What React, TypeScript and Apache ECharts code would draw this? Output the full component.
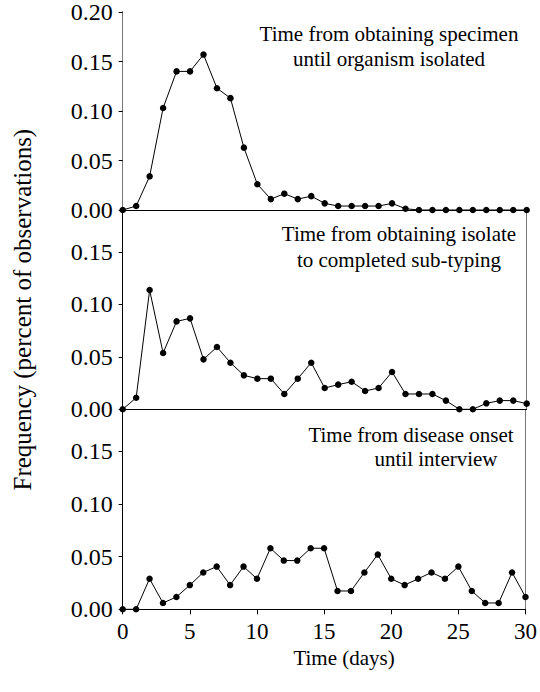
import React, { useEffect, useRef } from "react";
import * as echarts from "echarts";

const days = [0, 1, 2, 3, 4, 5, 6, 7, 8, 9, 10, 11, 12, 13, 14, 15, 16, 17, 18, 19, 20, 21, 22, 23, 24, 25, 26, 27, 28, 29, 30];

const specimenToIsolate = [
  0, 0.004, 0.034, 0.103, 0.14, 0.14, 0.157, 0.123, 0.113, 0.063, 0.026,
  0.011, 0.0165, 0.011, 0.014, 0.0067, 0.004, 0.004, 0.004, 0.004, 0.0067,
  0.0013, 0, 0, 0, 0, 0, 0, 0, 0, 0,
];

const isolateToSubtype = [
  0, 0.011, 0.1137, 0.0537, 0.0838, 0.0867, 0.0476, 0.0594, 0.0444, 0.0324,
  0.0292, 0.0292, 0.0146, 0.0292, 0.0444, 0.0203, 0.0235, 0.0263, 0.0175,
  0.0203, 0.0356, 0.0146, 0.0146, 0.0146, 0.0083, 0, 0, 0.0057, 0.0083,
  0.0083, 0.0054,
];

const onsetToInterview = [
  0, 0, 0.029, 0.006, 0.0117, 0.023, 0.035, 0.0406, 0.023, 0.0406, 0.029,
  0.058, 0.0463, 0.0463, 0.058, 0.058, 0.0174, 0.0174, 0.035, 0.052, 0.029,
  0.023, 0.029, 0.035, 0.029, 0.0406, 0.0174, 0.006, 0.006, 0.035, 0.0117,
];

const panelTitles = [
  ["Time from obtaining specimen", "until organism isolated"],
  ["Time from obtaining isolate", "to completed sub-typing"],
  ["Time from disease onset", "until interview"],
];

const yTicksTop = [0, 0.05, 0.1, 0.15, 0.2];
const yTicksLower = [0, 0.05, 0.1, 0.15];
const xTicks = [0, 5, 10, 15, 20, 25, 30];

const FONT = "Liberation Serif";

export default function App() {
  const ref = useRef<HTMLDivElement>(null);

  useEffect(() => {
    if (!ref.current) return;
    const chart = echarts.init(ref.current, null, { renderer: "svg" });

    const left = 122.7;
    const right = 540 - 526.7;
    const grids = [
      { left, right, top: 11.7, height: 198.3 },
      { left, right, top: 210, height: 199.3 },
      { left, right, top: 409.3, height: 200 },
    ];

    const seriesData = [specimenToIsolate, isolateToSubtype, onsetToInterview];

    const xAxes: any[] = grids.map((_, i) => ({
      type: "value",
      gridIndex: i,
      min: 0,
      max: 30,
      interval: 5,
      axisLine: { show: true, lineStyle: { color: "#000", width: 1 } },
      axisTick: {
        show: i === 2,
        length: 5,
        inside: false,
        lineStyle: { color: "#000" },
        customValues: xTicks,
      },
      axisLabel: {
        show: i === 2,
        fontFamily: FONT,
        fontSize: 23,
        color: "#000",
        margin: 11,
        customValues: xTicks,
      },
      splitLine: { show: false },
      name: i === 2 ? "Time (days)" : "",
      nameLocation: "middle",
      nameGap: 38,
      nameTextStyle: {
        fontFamily: FONT,
        fontSize: 21,
        color: "#000",
        padding: [0, 0, 0, 40],
      },
    }));
    // top frame line of first panel
    xAxes.push({
      type: "value",
      gridIndex: 0,
      position: "top",
      min: 0,
      max: 30,
      axisLine: { show: true, lineStyle: { color: "#000", width: 1 } },
      axisTick: { show: false },
      axisLabel: { show: false },
      splitLine: { show: false },
    });

    const yAxes: any[] = grids.map((_, i) => {
      const ticks = i === 0 ? yTicksTop : yTicksLower;
      return {
        type: "value",
        gridIndex: i,
        min: 0,
        max: i === 0 ? 0.2 : 0.19,
        interval: 0.05,
        axisLine: { show: true, lineStyle: { color: "#000", width: 1 } },
        axisTick: {
          show: true,
          length: 4,
          inside: false,
          lineStyle: { color: "#000" },
          customValues: ticks,
        },
        axisLabel: {
          fontFamily: FONT,
          fontSize: 24,
          color: "#000",
          margin: 10,
          customValues: ticks,
          formatter: (v: number) => v.toFixed(2),
        },
        splitLine: { show: false },
        name: i === 1 ? "Frequency (percent of observations)" : "",
        nameLocation: "middle",
        nameRotate: 90,
        nameGap: 88,
        nameTextStyle: { fontFamily: FONT, fontSize: 25, color: "#000" },
      };
    });
    // right frame lines
    grids.forEach((_, i) => {
      yAxes.push({
        type: "value",
        gridIndex: i,
        position: "right",
        min: 0,
        max: 1,
        axisLine: { show: true, lineStyle: { color: "#777", width: 1 } },
        axisTick: { show: false },
        axisLabel: { show: false },
        splitLine: { show: false },
      });
    });

    const series = seriesData.map((vals, i) => ({
      type: "line",
      xAxisIndex: i,
      yAxisIndex: i,
      data: days.map((d, j) => [d, vals[j]]),
      symbol: "circle",
      symbolSize: 6.5,
      showSymbol: true,
      clip: false,
      lineStyle: { color: "#000", width: 1 },
      itemStyle: { color: "#000" },
      z: 5,
    }));

    const titleCenters = [
      { x: 389, y1: 34, y2: 59 },
      { x: 399, y1: 234, y2: 260 },
      { x: 411, y1: 435, y2: 459 },
    ];
    const secondLineCenters = [389, 399, 436];

    const graphic: any[] = [];
    panelTitles.forEach((lines, i) => {
      graphic.push({
        type: "text",
        x: titleCenters[i].x,
        y: titleCenters[i].y1,
        style: {
          text: lines[0],
          fontFamily: FONT,
          fontSize: 21,
          fill: "#000",
          align: "center",
          verticalAlign: "middle",
        },
      });
      graphic.push({
        type: "text",
        x: secondLineCenters[i],
        y: titleCenters[i].y2,
        style: {
          text: lines[1],
          fontFamily: FONT,
          fontSize: 21,
          fill: "#000",
          align: "center",
          verticalAlign: "middle",
        },
      });
    });

    chart.setOption({
      animation: false,
      backgroundColor: "#fff",
      textStyle: { fontFamily: FONT },
      grid: grids,
      xAxis: xAxes,
      yAxis: yAxes,
      series,
      graphic,
    });

    return () => chart.dispose();
  }, []);

  return (
    <div
      ref={ref}
      style={{ position: "fixed", left: 0, top: 0, width: 540, height: 692 }}
    />
  );
}
